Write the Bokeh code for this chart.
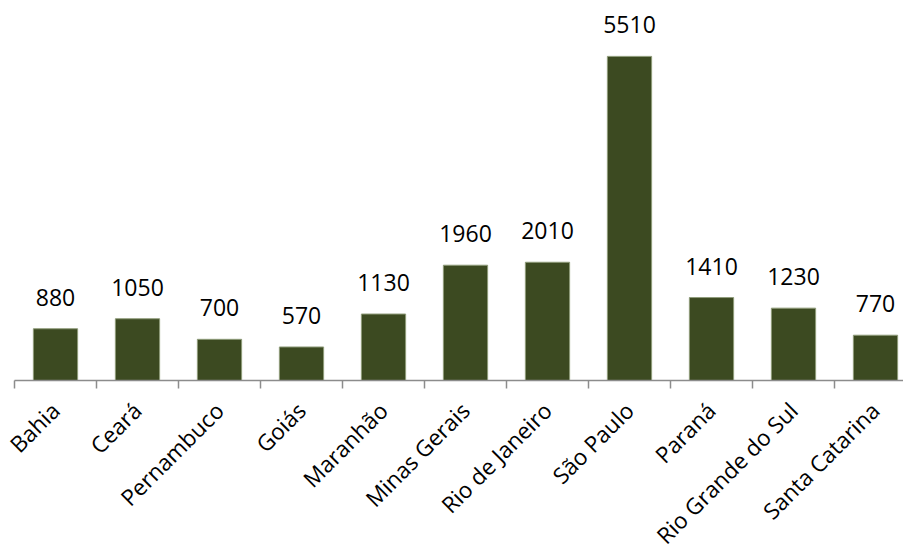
import math
from bokeh.plotting import figure
from bokeh.models import ColumnDataSource, Range1d, LabelSet
from bokeh.core.properties import value
from bokeh.embed import file_html
from bokeh.resources import INLINE

states = ["Bahia", "Ceará", "Pernambuco", "Goiás", "Maranhão", "Minas Gerais",
          "Rio de Janeiro", "São Paulo", "Paraná", "Rio Grande do Sul", "Santa Catarina"]
values = [880, 1050, 700, 570, 1130, 1960, 2010, 5510, 1410, 1230, 770]

xs = list(range(len(states)))
src = ColumnDataSource(dict(
    x=xs, top=values, name=states, lbl=[str(v) for v in values],
    zero=[0] * len(states),
))

W, H = 903, 547
left_px = 14           # pixel column where the category axis starts
axis_px = 380          # pixel row of the category axis from the top
cat_px = 82.0          # pixel width of one category
units_per_px = 17.0    # value units per pixel
x0 = -0.5 - left_px / cat_px

p = figure(width=W, height=H, output_backend="svg", toolbar_location=None,
           x_axis_location=None, y_axis_location=None,
           x_range=Range1d(x0, x0 + W / cat_px),
           y_range=Range1d(-(H - axis_px) * units_per_px, axis_px * units_per_px))
p.min_border_left = 0
p.min_border_right = 0
p.min_border_top = 0
p.min_border_bottom = 0
p.outline_line_color = None
p.background_fill_color = "white"
p.border_fill_color = "white"
p.xgrid.visible = False
p.ygrid.visible = False

p.vbar(x="x", top="top", width=0.54, source=src,
       fill_color="#3C4A21", line_color="#8F9C7A", line_width=1)

# category axis line and tick marks between categories
bounds = [i - 0.5 for i in range(len(states) + 1)]
p.segment(x0=[bounds[0]], y0=[0], x1=[bounds[-1]], y1=[0],
          line_color="#8C8C8C", line_width=1.5)
tick_len = 8 * units_per_px
p.segment(x0=bounds, y0=[0] * len(bounds), x1=bounds, y1=[-tick_len] * len(bounds),
          line_color="#8C8C8C", line_width=1.5)

font = value("Open Sans")
vals = LabelSet(x="x", y="top", text="lbl", source=src, y_offset=23,
                text_align="center", text_baseline="alphabetic",
                text_font=font, text_font_size=value("23px"), text_color="#000000")
p.add_layout(vals)

names = LabelSet(x="x", y="zero", text="name", source=src, x_offset=-11, y_offset=-15,
                 angle=math.pi / 4, text_align="right", text_baseline="top",
                 text_font=font, text_font_size=value("22.5px"), text_color="#000000")
p.add_layout(names)

open("out.html", "w").write(file_html(p, INLINE))
